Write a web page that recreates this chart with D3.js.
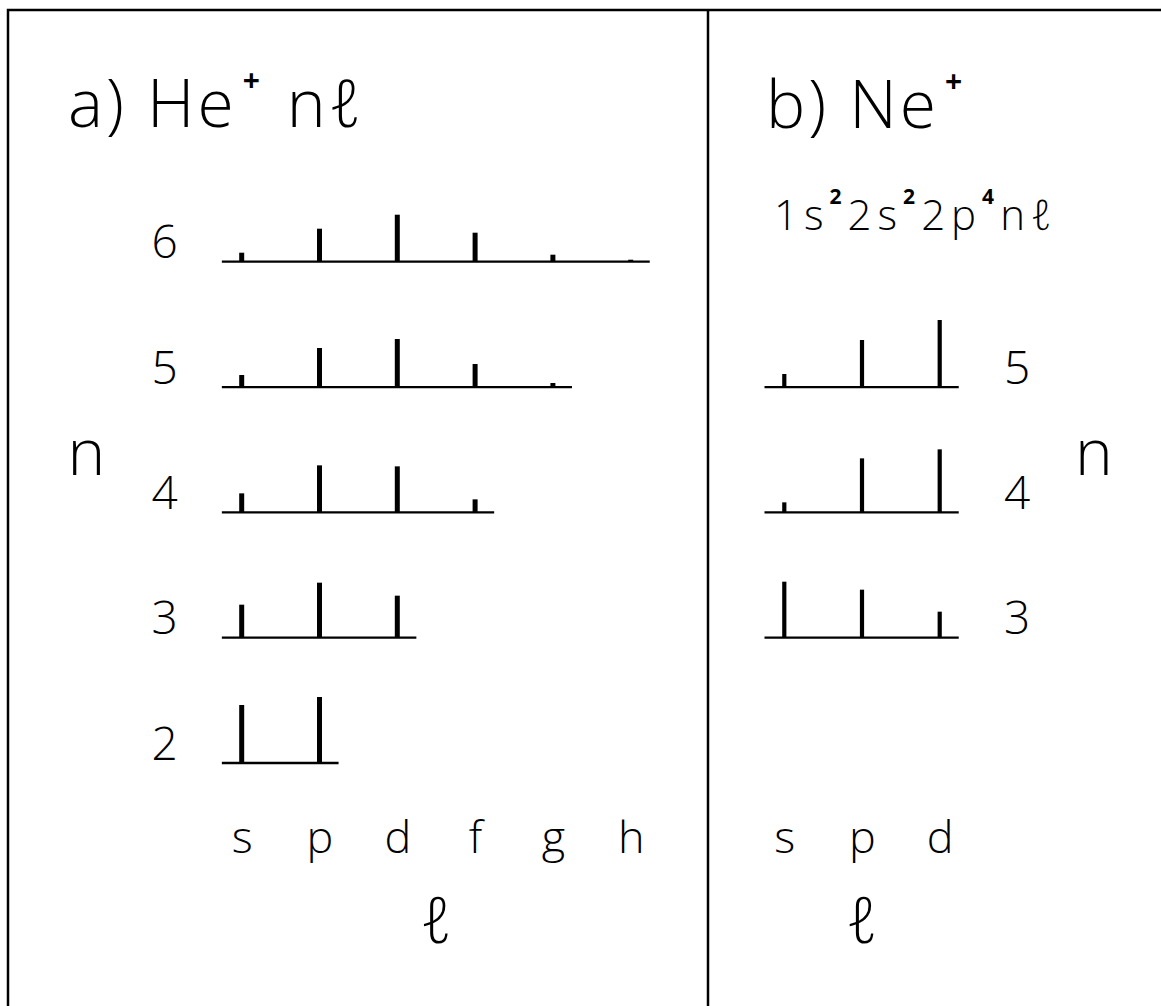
<!DOCTYPE html>
<html>
<head>
<meta charset="utf-8">
<script src="https://cdn.jsdelivr.net/npm/d3@7"></script>
<style>
  html, body { margin: 0; padding: 0; background: #fff; }
  svg { display: block; }
  text { font-family: "Open Sans", "DejaVu Sans", sans-serif; font-weight: 300; fill: #000; }
</style>
</head>
<body>
<svg id="chart" width="1161" height="1006"></svg>
<script>
// ---- data (relative line intensities, arbitrary units) ----
const lLabelsA = ["s", "p", "d", "f", "g", "h"];
const lLabelsB = ["s", "p", "d"];
const nTicksA = [2, 3, 4, 5, 6];
const nTicksB = [3, 4, 5];
// He+ n l
const heN2 = [58, 66];
const heN3 = [33, 55, 42];
const heN4 = [19, 47, 46, 13];
const heN5 = [12, 39, 48, 23, 4];
const heN6 = [9, 33, 47, 29, 7, 2];
// Ne+ 1s2 2s2 2p4 n l
const neN3 = [56, 48, 26];
const neN4 = [10, 54, 63];
const neN5 = [13, 47, 67];

const rowsA = [
  { n: 2, vals: heN2 }, { n: 3, vals: heN3 }, { n: 4, vals: heN4 },
  { n: 5, vals: heN5 }, { n: 6, vals: heN6 }
];
const rowsB = [
  { n: 3, vals: neN3 }, { n: 4, vals: neN4 }, { n: 5, vals: neN5 }
];

const svg = d3.select("#chart");

// frame
svg.append("path")
  .attr("d", "M8,1020 L8,10 L1175,10")
  .attr("fill", "none").attr("stroke", "#000").attr("stroke-width", 2.5);
svg.append("line")
  .attr("x1", 708).attr("x2", 708).attr("y1", 10).attr("y2", 1020)
  .attr("stroke", "#000").attr("stroke-width", 2.5);

// scales
const yN = d3.scaleLinear().domain([2, 6]).range([763, 261.7]);
const xA = d3.scaleLinear().domain([0, 5]).range([241.7, 630.7]);
const xB = d3.scaleLinear().domain([0, 2]).range([784.3, 939.7]);
const hS = d3.scaleLinear().domain([0, 70]).range([0, 70]);

function drawPanel(rows, x, barW) {
  const g = svg.append("g");
  const row = g.selectAll("g.row").data(rows).join("g").attr("class", "row");
  row.append("line")
    .attr("x1", d => x(-0.255))
    .attr("x2", d => x(d.vals.length - 1 + 0.245))
    .attr("y1", d => yN(d.n)).attr("y2", d => yN(d.n))
    .attr("stroke", "#000").attr("stroke-width", 2.3);
  row.selectAll("line.bar")
    .data(d => d.vals.map((v, i) => ({ n: d.n, i, v })))
    .join("line").attr("class", "bar")
    .attr("x1", d => x(d.i)).attr("x2", d => x(d.i))
    .attr("y1", d => yN(d.n))
    .attr("y2", d => yN(d.n) - hS(d.v))
    .attr("stroke", "#000").attr("stroke-width", barW);
}
drawPanel(rowsA, xA, 5);
drawPanel(rowsB, xB, 4.2);

// n tick labels
function nAxis(ticks, cx) {
  const ax = d3.axisLeft(yN).tickValues(ticks).tickSize(0).tickFormat(d3.format("d"));
  const g = svg.append("g").attr("transform", `translate(${cx},0)`).call(ax);
  g.select(".domain").remove();
  g.selectAll(".tick text")
    .attr("x", 0).attr("dy", "-4")
    .attr("text-anchor", "middle")
    .attr("font-size", 46)
    .attr("font-family", null).attr("fill", "#000");
}
nAxis(nTicksA, 164.5);
nAxis(nTicksB, 1017);

// l tick labels
function lAxis(x, labels) {
  const ax = d3.axisBottom(x).tickValues(d3.range(labels.length)).tickSize(0)
    .tickFormat(i => labels[i]);
  const g = svg.append("g").attr("transform", "translate(0,853)").call(ax);
  g.select(".domain").remove();
  g.selectAll(".tick text")
    .attr("y", 0).attr("dy", 0)
    .attr("font-size", 45)
    .attr("font-family", null).attr("fill", "#000");
}
lAxis(xA, lLabelsA);
lAxis(xB, lLabelsB);

// axis titles
svg.append("text").attr("x", (xA(0) + xA(5)) / 2).attr("y", 943)
  .attr("text-anchor", "middle").attr("font-size", 64).attr("font-style", "italic").text("ℓ");
svg.append("text").attr("x", (xB(0) + xB(2)) / 2).attr("y", 943)
  .attr("text-anchor", "middle").attr("font-size", 64).attr("font-style", "italic").text("ℓ");
svg.append("text").attr("x", 86.5).attr("y", 475)
  .attr("text-anchor", "middle").attr("font-size", 64).text("n");
svg.append("text").attr("x", 1094).attr("y", 475)
  .attr("text-anchor", "middle").attr("font-size", 64).text("n");

// panel titles
const tA = svg.append("text").attr("x", 68).attr("y", 127).attr("font-size", 66)
  .attr("letter-spacing", 3);
tA.append("tspan").text("a)");
tA.append("tspan").attr("dx", 20).text("He");
tA.append("tspan").attr("dy", -36).attr("dx", 6).attr("font-size", 30).attr("font-weight", 700).text("+");
tA.append("tspan").attr("dy", 36).attr("dx", 24).text("n");
tA.append("tspan").attr("font-style", "italic").text("ℓ");

const tB = svg.append("text").attr("x", 766).attr("y", 128).attr("font-size", 66)
  .attr("letter-spacing", 3);
tB.append("tspan").text("b)");
tB.append("tspan").attr("dx", 20).text("Ne");
tB.append("tspan").attr("dy", -36).attr("dx", 6).attr("font-size", 30).attr("font-weight", 700).text("+");

const sB = svg.append("text").attr("x", 774).attr("y", 230).attr("font-size", 42)
  .attr("letter-spacing", 6);
const parts = [["1s", "2"], ["2s", "2"], ["2p", "4"], ["n", null]];
let raised = false;
parts.forEach(([base, sup]) => {
  sB.append("tspan").attr("dy", raised ? 26 : 0).attr("font-size", 42).text(base);
  raised = false;
  if (sup) {
    sB.append("tspan").attr("dy", -26).attr("font-size", 21).attr("font-weight", 700).text(sup);
    raised = true;
  }
});
sB.append("tspan").attr("font-style", "italic").text("ℓ");
</script>
</body>
</html>
